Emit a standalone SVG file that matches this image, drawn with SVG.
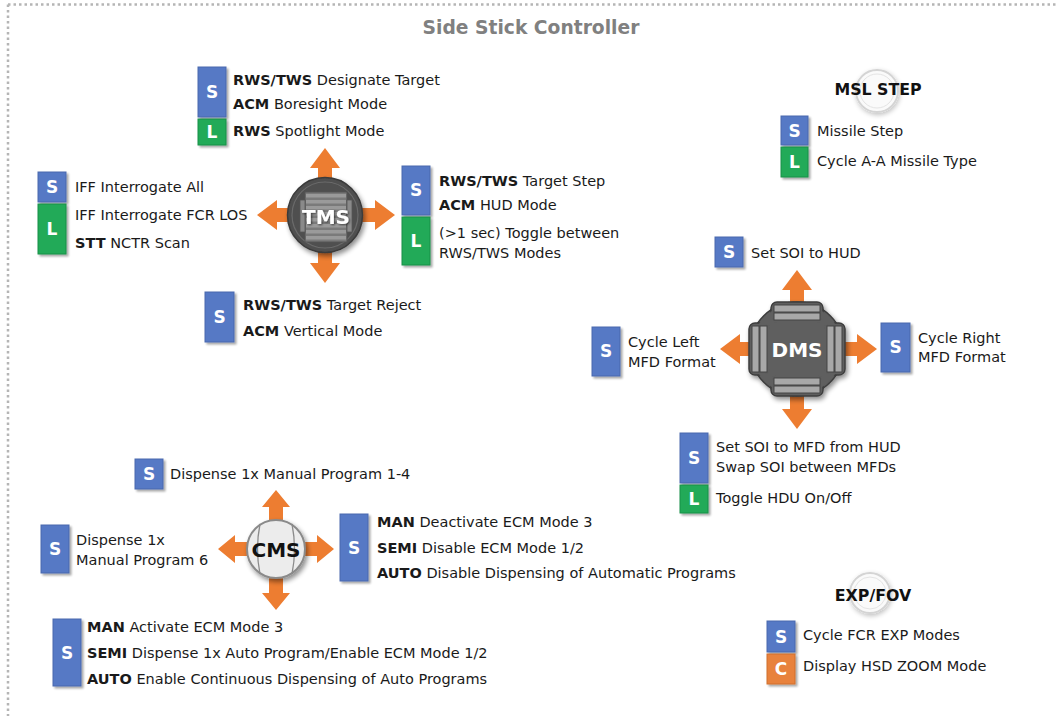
<svg xmlns="http://www.w3.org/2000/svg" width="1057" height="716" viewBox="0 0 1057 716">
  <style>
    .t { font-family: "DejaVu Sans", Verdana, sans-serif; font-size: 14.5px; fill: #1a1a1a; }
    .b { font-weight: bold; }
    .badge-txt { font-family: "DejaVu Sans", Verdana, sans-serif; font-size: 17px; font-weight: bold; fill: #ffffff; text-anchor: middle; }
    .s { fill: #5679c5; stroke: #4a69ad; stroke-width: 1; }
    .l { fill: #22aa58; stroke: #1d9049; stroke-width: 1; }
    .c { fill: #e8823c; stroke: #d06f2c; stroke-width: 1; }
    .arrow { fill: #ed7d31; }
    .knob-label { font-family: "DejaVu Sans", Verdana, sans-serif; font-size: 20px; font-weight: bold; text-anchor: middle; }
    .btn-title { font-family: "DejaVu Sans", Verdana, sans-serif; font-size: 15.8px; font-weight: bold; fill: #111; text-anchor: middle; }
  </style>
  <defs>
    <filter id="shadow" x="-30%" y="-30%" width="160%" height="160%">
      <feGaussianBlur in="SourceAlpha" stdDeviation="1.2"/>
      <feOffset dx="1.5" dy="1.5" result="o"/>
      <feComponentTransfer><feFuncA type="linear" slope="0.35"/></feComponentTransfer>
      <feMerge><feMergeNode/><feMergeNode in="SourceGraphic"/></feMerge>
    </filter>
    <filter id="knobShadow" x="-30%" y="-30%" width="160%" height="160%">
      <feGaussianBlur in="SourceAlpha" stdDeviation="2.5"/>
      <feOffset dx="2" dy="3" result="o"/>
      <feComponentTransfer><feFuncA type="linear" slope="0.45"/></feComponentTransfer>
      <feMerge><feMergeNode/><feMergeNode in="SourceGraphic"/></feMerge>
    </filter>
    <filter id="softShadow" x="-40%" y="-40%" width="180%" height="180%">
      <feGaussianBlur in="SourceAlpha" stdDeviation="2.5"/>
      <feOffset dx="1" dy="2" result="o"/>
      <feComponentTransfer><feFuncA type="linear" slope="0.25"/></feComponentTransfer>
      <feMerge><feMergeNode/><feMergeNode in="SourceGraphic"/></feMerge>
    </filter>
    <filter id="textShadow" x="-20%" y="-20%" width="140%" height="140%">
      <feGaussianBlur in="SourceAlpha" stdDeviation="1"/>
      <feOffset dx="1" dy="1" result="o"/>
      <feComponentTransfer><feFuncA type="linear" slope="0.6"/></feComponentTransfer>
      <feMerge><feMergeNode/><feMergeNode in="SourceGraphic"/></feMerge>
    </filter>
  </defs>

  <rect width="1057" height="716" fill="#ffffff"/>

  <!-- dotted frame -->
  <g id="frame" fill="none" stroke="#b5b5b5" stroke-width="2.5" stroke-dasharray="2.5 3">
    <line x1="8" y1="4.5" x2="1057" y2="4.5"/>
    <line x1="8" y1="4.5" x2="8" y2="716"/>
  </g>

  <text x="531" y="34" font-family="DejaVu Sans, Verdana, sans-serif" font-size="18.7" font-weight="bold" fill="#808080" text-anchor="middle">Side Stick Controller</text>

  <!-- direction arrows -->
  <g id="connectors" class="arrow">
    <!-- TMS -->
    <path d="M325,148 L340,168 L332,168 L332,200 L318,200 L318,168 L310,168 Z"/>
    <path d="M325,283 L340,263 L332,263 L332,230 L318,230 L318,263 L310,263 Z"/>
    <path d="M257,215 L277,200 L277,208 L310,208 L310,222 L277,222 L277,230 Z"/>
    <path d="M395,215 L375,200 L375,208 L340,208 L340,222 L375,222 L375,230 Z"/>
    <!-- DMS -->
    <path d="M797,270 L812,290 L804,290 L804,320 L790,320 L790,290 L782,290 Z"/>
    <path d="M797,429 L812,409 L804,409 L804,380 L790,380 L790,409 L782,409 Z"/>
    <path d="M720,349 L740,334 L740,342 L770,342 L770,356 L740,356 L740,364 Z"/>
    <path d="M877,349 L857,334 L857,342 L825,342 L825,356 L857,356 L857,364 Z"/>
    <!-- CMS -->
    <path d="M276,490 L290,507 L283,507 L283,530 L269,530 L269,507 L262,507 Z"/>
    <path d="M276,610 L290,593 L283,593 L283,570 L269,570 L269,593 L262,593 Z"/>
    <path d="M218,549 L235,535 L235,542 L260,542 L260,556 L235,556 L235,563 Z"/>
    <path d="M334,549 L317,535 L317,542 L292,542 L292,556 L317,556 L317,563 Z"/>
  </g>

  <!-- TMS knob -->
  <g id="tms">
    <g filter="url(#knobShadow)">
      <circle cx="325" cy="215" r="37.5" fill="#4f4f4f" stroke="#3a3a3a" stroke-width="1.5"/>
      <circle cx="325" cy="215" r="33" fill="none" stroke="#6a6a6a" stroke-width="1.2"/>
    </g>
    <rect x="305" y="192" width="42" height="50" fill="#7a7a7a" stroke="#555" stroke-width="1"/>
    <g fill="#9a9a9a">
      <rect x="306" y="194" width="40" height="3.5"/>
      <rect x="306" y="200" width="40" height="3.5"/>
      <rect x="306" y="206" width="40" height="3.5"/>
      <rect x="306" y="212" width="40" height="3.5"/>
      <rect x="306" y="218" width="40" height="3.5"/>
      <rect x="306" y="224" width="40" height="3.5"/>
      <rect x="306" y="230" width="40" height="3.5"/>
      <rect x="306" y="236" width="40" height="3.5"/>
    </g>
    <rect x="300" y="200" width="5" height="32" fill="#8a8a8a" stroke="#555" stroke-width="0.8"/>
    <rect x="347" y="200" width="5" height="32" fill="#8a8a8a" stroke="#555" stroke-width="0.8"/>
    <text x="326" y="224" class="knob-label" fill="#ffffff" filter="url(#textShadow)">TMS</text>
  </g>

  <!-- TMS up -->
  <g id="tms-up">
    <rect x="198" y="67" width="28" height="50" class="s" filter="url(#shadow)"/>
    <rect x="198" y="119" width="28" height="26" class="l" filter="url(#shadow)"/>
    <text x="212" y="98" class="badge-txt">S</text>
    <text x="212" y="138" class="badge-txt">L</text>
    <text x="233" y="85" class="t"><tspan class="b">RWS/TWS</tspan> Designate Target</text>
    <text x="233" y="109" class="t"><tspan class="b">ACM</tspan> Boresight Mode</text>
    <text x="233" y="136" class="t"><tspan class="b">RWS</tspan> Spotlight Mode</text>
  </g>

  <!-- TMS left -->
  <g id="tms-left">
    <rect x="38" y="172" width="28" height="30" class="s" filter="url(#shadow)"/>
    <rect x="38" y="204" width="28" height="50" class="l" filter="url(#shadow)"/>
    <text x="52" y="193" class="badge-txt">S</text>
    <text x="52" y="235" class="badge-txt">L</text>
    <text x="75" y="192" class="t">IFF Interrogate All</text>
    <text x="75" y="220" class="t">IFF Interrogate FCR LOS</text>
    <text x="75" y="248" class="t"><tspan class="b">STT</tspan> NCTR Scan</text>
  </g>

  <!-- TMS right -->
  <g id="tms-right">
    <rect x="402" y="166" width="28" height="49" class="s" filter="url(#shadow)"/>
    <rect x="402" y="217" width="28" height="48" class="l" filter="url(#shadow)"/>
    <text x="416" y="196" class="badge-txt">S</text>
    <text x="416" y="247" class="badge-txt">L</text>
    <text x="439" y="186" class="t"><tspan class="b">RWS/TWS</tspan> Target Step</text>
    <text x="439" y="210" class="t"><tspan class="b">ACM</tspan> HUD Mode</text>
    <text x="439" y="238" class="t">(&gt;1 sec) Toggle between</text>
    <text x="439" y="258" class="t">RWS/TWS Modes</text>
  </g>

  <!-- TMS down -->
  <g id="tms-down">
    <rect x="205" y="292" width="29" height="50" class="s" filter="url(#shadow)"/>
    <text x="219.5" y="323" class="badge-txt">S</text>
    <text x="243" y="310" class="t"><tspan class="b">RWS/TWS</tspan> Target Reject</text>
    <text x="243" y="336" class="t"><tspan class="b">ACM</tspan> Vertical Mode</text>
  </g>

  <!-- MSL STEP button -->
  <g id="msl-step">
    <circle cx="877" cy="91" r="21" fill="#fafafa" stroke="#d4d4d4" stroke-width="2" filter="url(#softShadow)"/>
    <circle cx="877" cy="91" r="17" fill="none" stroke="#e4e4e4" stroke-width="1"/>
    <text x="878" y="95" class="btn-title">MSL STEP</text>
    <rect x="781" y="116" width="27" height="29" class="s" filter="url(#shadow)"/>
    <rect x="781" y="147" width="27" height="30" class="l" filter="url(#shadow)"/>
    <text x="794.5" y="137" class="badge-txt">S</text>
    <text x="794.5" y="168" class="badge-txt">L</text>
    <text x="817" y="136" class="t">Missile Step</text>
    <text x="817" y="166" class="t">Cycle A-A Missile Type</text>
  </g>

  <!-- DMS knob -->
  <g id="dms">
    <g filter="url(#knobShadow)">
      <circle cx="797" cy="349" r="47" fill="#5e5e5e" stroke="#3e3e3e" stroke-width="1.5"/>
      <rect x="771" y="302" width="52" height="22" rx="6" fill="#5e5e5e" stroke="#3e3e3e" stroke-width="1.5"/>
      <rect x="771" y="374" width="52" height="22" rx="6" fill="#5e5e5e" stroke="#3e3e3e" stroke-width="1.5"/>
      <rect x="749" y="323" width="22" height="52" rx="6" fill="#5e5e5e" stroke="#3e3e3e" stroke-width="1.5"/>
      <rect x="823" y="323" width="22" height="52" rx="6" fill="#5e5e5e" stroke="#3e3e3e" stroke-width="1.5"/>
      <circle cx="797" cy="349" r="45.5" fill="#5e5e5e"/>
      <rect x="772" y="303" width="50" height="20" rx="5" fill="#5e5e5e"/>
      <rect x="772" y="375" width="50" height="20" rx="5" fill="#5e5e5e"/>
      <rect x="750" y="324" width="20" height="50" rx="5" fill="#5e5e5e"/>
      <rect x="824" y="324" width="20" height="50" rx="5" fill="#5e5e5e"/>
    </g>
    <g fill="#a8a8a8" stroke="#444" stroke-width="1">
      <rect x="774" y="305" width="46" height="7"/>
      <rect x="774" y="313" width="46" height="7"/>
      <rect x="774" y="378" width="46" height="7"/>
      <rect x="774" y="386" width="46" height="7"/>
      <rect x="752" y="326" width="7" height="46"/>
      <rect x="760" y="326" width="7" height="46"/>
      <rect x="827" y="326" width="7" height="46"/>
      <rect x="835" y="326" width="7" height="46"/>
    </g>
    <text x="797" y="357" class="knob-label" fill="#ffffff">DMS</text>
  </g>

  <!-- DMS up -->
  <g id="dms-up">
    <rect x="715" y="237" width="28" height="30" class="s" filter="url(#shadow)"/>
    <text x="729" y="258" class="badge-txt">S</text>
    <text x="751" y="258" class="t">Set SOI to HUD</text>
  </g>

  <!-- DMS left -->
  <g id="dms-left">
    <rect x="592" y="327" width="28" height="49" class="s" filter="url(#shadow)"/>
    <text x="606" y="357" class="badge-txt">S</text>
    <text x="628" y="347" class="t">Cycle Left</text>
    <text x="628" y="367" class="t">MFD Format</text>
  </g>

  <!-- DMS right -->
  <g id="dms-right">
    <rect x="881" y="323" width="29" height="49" class="s" filter="url(#shadow)"/>
    <text x="895.5" y="353" class="badge-txt">S</text>
    <text x="918" y="343" class="t">Cycle Right</text>
    <text x="918" y="362" class="t">MFD Format</text>
  </g>

  <!-- DMS down -->
  <g id="dms-down">
    <rect x="680" y="433" width="28" height="50" class="s" filter="url(#shadow)"/>
    <rect x="680" y="485" width="28" height="28" class="l" filter="url(#shadow)"/>
    <text x="694" y="464" class="badge-txt">S</text>
    <text x="694" y="505" class="badge-txt">L</text>
    <text x="716" y="452" class="t">Set SOI to MFD from HUD</text>
    <text x="716" y="472" class="t">Swap SOI between MFDs</text>
    <text x="716" y="503" class="t">Toggle HDU On/Off</text>
  </g>

  <!-- CMS knob -->
  <g id="cms">
    <circle cx="276" cy="549" r="29" fill="#ececec" stroke="#8a8a8a" stroke-width="2" filter="url(#knobShadow)"/>
    <path d="M260,524 Q255,549 260,574" fill="none" stroke="#8a8a8a" stroke-width="1.3"/>
    <path d="M292,524 Q297,549 292,574" fill="none" stroke="#8a8a8a" stroke-width="1.3"/>
    <text x="276" y="557" class="knob-label" fill="#111">CMS</text>
  </g>

  <!-- CMS up -->
  <g id="cms-up">
    <rect x="135" y="459" width="28" height="30" class="s" filter="url(#shadow)"/>
    <text x="149" y="480" class="badge-txt">S</text>
    <text x="170" y="479" class="t">Dispense 1x Manual Program 1-4</text>
  </g>

  <!-- CMS left -->
  <g id="cms-left">
    <rect x="41" y="525" width="28" height="48" class="s" filter="url(#shadow)"/>
    <text x="55" y="555" class="badge-txt">S</text>
    <text x="76" y="545" class="t">Dispense 1x</text>
    <text x="76" y="565" class="t">Manual Program 6</text>
  </g>

  <!-- CMS right -->
  <g id="cms-right">
    <rect x="340" y="514" width="28" height="67" class="s" filter="url(#shadow)"/>
    <text x="354" y="554" class="badge-txt">S</text>
    <text x="377" y="527" class="t"><tspan class="b">MAN</tspan> Deactivate ECM Mode 3</text>
    <text x="377" y="553" class="t"><tspan class="b">SEMI</tspan> Disable ECM Mode 1/2</text>
    <text x="377" y="578" class="t"><tspan class="b">AUTO</tspan> Disable Dispensing of Automatic Programs</text>
  </g>

  <!-- CMS down -->
  <g id="cms-down">
    <rect x="53" y="619" width="28" height="67" class="s" filter="url(#shadow)"/>
    <text x="67" y="659" class="badge-txt">S</text>
    <text x="87" y="632" class="t"><tspan class="b">MAN</tspan> Activate ECM Mode 3</text>
    <text x="87" y="658" class="t"><tspan class="b">SEMI</tspan> Dispense 1x Auto Program/Enable ECM Mode 1/2</text>
    <text x="87" y="684" class="t"><tspan class="b">AUTO</tspan> Enable Continuous Dispensing of Auto Programs</text>
  </g>

  <!-- EXP/FOV button -->
  <g id="exp-fov">
    <circle cx="870" cy="593" r="20" fill="#fafafa" stroke="#d4d4d4" stroke-width="2" filter="url(#softShadow)"/>
    <circle cx="870" cy="593" r="16" fill="none" stroke="#e4e4e4" stroke-width="1"/>
    <text x="873" y="601" class="btn-title">EXP/FOV</text>
    <rect x="767" y="621" width="28" height="31" class="s" filter="url(#shadow)"/>
    <rect x="767" y="654" width="28" height="30" class="c" filter="url(#shadow)"/>
    <text x="781" y="643" class="badge-txt">S</text>
    <text x="781" y="675" class="badge-txt">C</text>
    <text x="803" y="640" class="t">Cycle FCR EXP Modes</text>
    <text x="803" y="671" class="t">Display HSD ZOOM Mode</text>
  </g>
</svg>
